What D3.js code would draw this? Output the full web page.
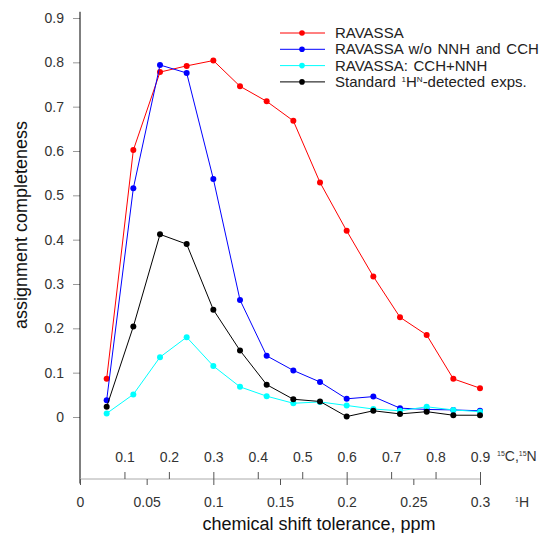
<!DOCTYPE html>
<html>
<head>
<meta charset="utf-8">
<script src="https://cdn.jsdelivr.net/npm/d3@7"></script>
<style>
  body { margin: 0; background: #fff; }
  svg text { font-family: "Liberation Sans", Arial, sans-serif; }
</style>
</head>
<body>
<div id="chart"></div>
<script>
// tolerance in 1H ppm (the 13C/15N scale is 3x)
const tolH = [0.02, 0.04, 0.06, 0.08, 0.10, 0.12, 0.14, 0.16, 0.18, 0.20, 0.22, 0.24, 0.26, 0.28, 0.30];

const ravassa   = [0.086, 0.602, 0.778, 0.792, 0.804, 0.746, 0.712, 0.668, 0.529, 0.420, 0.317, 0.225, 0.185, 0.086, 0.065];
const woNNHCCH  = [0.038, 0.516, 0.794, 0.776, 0.537, 0.264, 0.138, 0.105, 0.079, 0.041, 0.046, 0.020, 0.017, 0.016, 0.014];
const cchNNH    = [0.008, 0.051, 0.135, 0.180, 0.115, 0.068, 0.047, 0.031, 0.034, 0.026, 0.018, 0.014, 0.023, 0.016, 0.012];
const standard  = [0.023, 0.204, 0.412, 0.390, 0.242, 0.150, 0.073, 0.040, 0.035, 0.001, 0.014, 0.007, 0.012, 0.004, 0.004];

const seriesNames = ["RAVASSA", "RAVASSA w/o NNH and CCH", "RAVASSA: CCH+NNH", "Standard"];
const seriesColors = ["#ff0000", "#0000ff", "#00ffff", "#000000"];

const yTicks = [0, 0.1, 0.2, 0.3, 0.4, 0.5, 0.6, 0.7, 0.8, 0.9];
const hTicks = [0, 0.05, 0.1, 0.15, 0.2, 0.25, 0.3];
const cTicks = [0.1, 0.2, 0.3, 0.4, 0.5, 0.6, 0.7, 0.8, 0.9];

const width = 550, height = 533;
const x0 = 80, x1 = 480;
const axisY = 479;

const svg = d3.select("#chart").append("svg")
  .attr("width", width)
  .attr("height", height);

const x = d3.scaleLinear().domain([0, 0.3]).range([x0, x1]);
const xC = d3.scaleLinear().domain([0, 0.9]).range([x0, x1]);
const y = d3.scaleLinear().domain([0, 0.9]).range([417, 18]);

// y axis
const yAxis = svg.append("g")
  .attr("transform", `translate(${x0},0)`)
  .call(d3.axisLeft(y).tickValues(yTicks).tickFormat(d => d === 0 ? "0" : d3.format(".1f")(d)).tickSize(7).tickPadding(9));
yAxis.select(".domain").remove();
yAxis.selectAll(".tick line").attr("stroke", "#999");
yAxis.selectAll(".tick text").attr("fill", "#333").style("font-size", "14px");

svg.append("line")
  .attr("x1", x0).attr("x2", x0)
  .attr("y1", y(0.914)).attr("y2", y(-0.15))
  .attr("stroke", "#000").attr("stroke-width", 1);

// bottom axis line
svg.append("line")
  .attr("x1", x0).attr("x2", x1)
  .attr("y1", axisY).attr("y2", axisY)
  .attr("stroke", "#aaa");

// 1H ticks below
const hAxis = svg.append("g")
  .attr("transform", `translate(0,${axisY})`)
  .call(d3.axisBottom(x).tickValues(hTicks).tickFormat(d => d === 0 ? "0" : String(+d.toFixed(2))).tickSize(6).tickPadding(12));
hAxis.select(".domain").remove();
hAxis.selectAll(".tick line").attr("stroke", "#555");
hAxis.selectAll(".tick text").attr("fill", "#333").style("font-size", "14px");

// 13C/15N ticks above
const cAxis = svg.append("g")
  .attr("transform", `translate(0,${axisY})`)
  .call(d3.axisTop(xC).tickValues(cTicks).tickFormat(d3.format(".1f")).tickSize(7).tickPadding(10));
cAxis.select(".domain").remove();
cAxis.selectAll(".tick line").attr("stroke", "#555");
cAxis.selectAll(".tick text").attr("fill", "#333").style("font-size", "14px");

// unit labels
const cLab = svg.append("text")
  .attr("x", 497).attr("y", 461)
  .attr("fill", "#333").style("font-size", "14px");
cLab.append("tspan").text("15").style("font-size", "7px").attr("dy", -5);
cLab.append("tspan").text("C,").attr("dy", 5);
cLab.append("tspan").text("15").style("font-size", "7px").attr("dy", -5);
cLab.append("tspan").text("N").attr("dy", 5);

const hLab = svg.append("text")
  .attr("x", 515).attr("y", 507)
  .attr("fill", "#333").style("font-size", "14px");
hLab.append("tspan").text("1").style("font-size", "7px").attr("dy", -5);
hLab.append("tspan").text("H").attr("dy", 5);

// axis titles
svg.append("text")
  .attr("x", 319).attr("y", 530)
  .attr("text-anchor", "middle")
  .attr("fill", "#111")
  .style("font-size", "18px")
  .text("chemical shift tolerance, ppm");

svg.append("text")
  .attr("transform", "translate(27,225) rotate(-90)")
  .attr("text-anchor", "middle")
  .attr("fill", "#111")
  .style("font-size", "18px")
  .text("assignment completeness");

// series
const allSeries = [ravassa, woNNHCCH, cchNNH, standard];
const line = d3.line().x((d, i) => x(tolH[i])).y(d => y(d));

allSeries.forEach((vals, k) => {
  svg.append("path")
    .datum(vals)
    .attr("d", line)
    .attr("fill", "none")
    .attr("stroke", seriesColors[k])
    .attr("stroke-width", 1);
  svg.selectAll(".pt" + k)
    .data(vals)
    .enter().append("circle")
    .attr("class", "pt" + k)
    .attr("cx", (d, i) => x(tolH[i]))
    .attr("cy", d => y(d))
    .attr("r", 3)
    .attr("fill", seriesColors[k]);
});

// legend
const legend = svg.append("g").attr("transform", "translate(280,33)");
seriesNames.forEach((name, k) => {
  const g = legend.append("g").attr("transform", `translate(0,${k * 16.3})`);
  g.append("line").attr("x1", 0).attr("x2", 45).attr("y1", 0).attr("y2", 0)
    .attr("stroke", seriesColors[k]).attr("stroke-width", 1);
  g.append("circle").attr("cx", 22).attr("cy", 0).attr("r", 2.8).attr("fill", seriesColors[k]);
  const t = g.append("text").attr("x", 55).attr("y", 5)
    .attr("fill", "#222").style("font-size", "15px").style("word-spacing", "1.5px");
  if (k === 3) {
    t.append("tspan").text("Standard ");
    t.append("tspan").text("1").style("font-size", "8px").attr("dy", -5);
    t.append("tspan").text("H").attr("dy", 5);
    t.append("tspan").text("N").style("font-size", "8px").attr("dy", -5);
    t.append("tspan").text("-detected exps.").attr("dy", 5);
  } else {
    t.text(name);
  }
});
</script>
</body>
</html>
